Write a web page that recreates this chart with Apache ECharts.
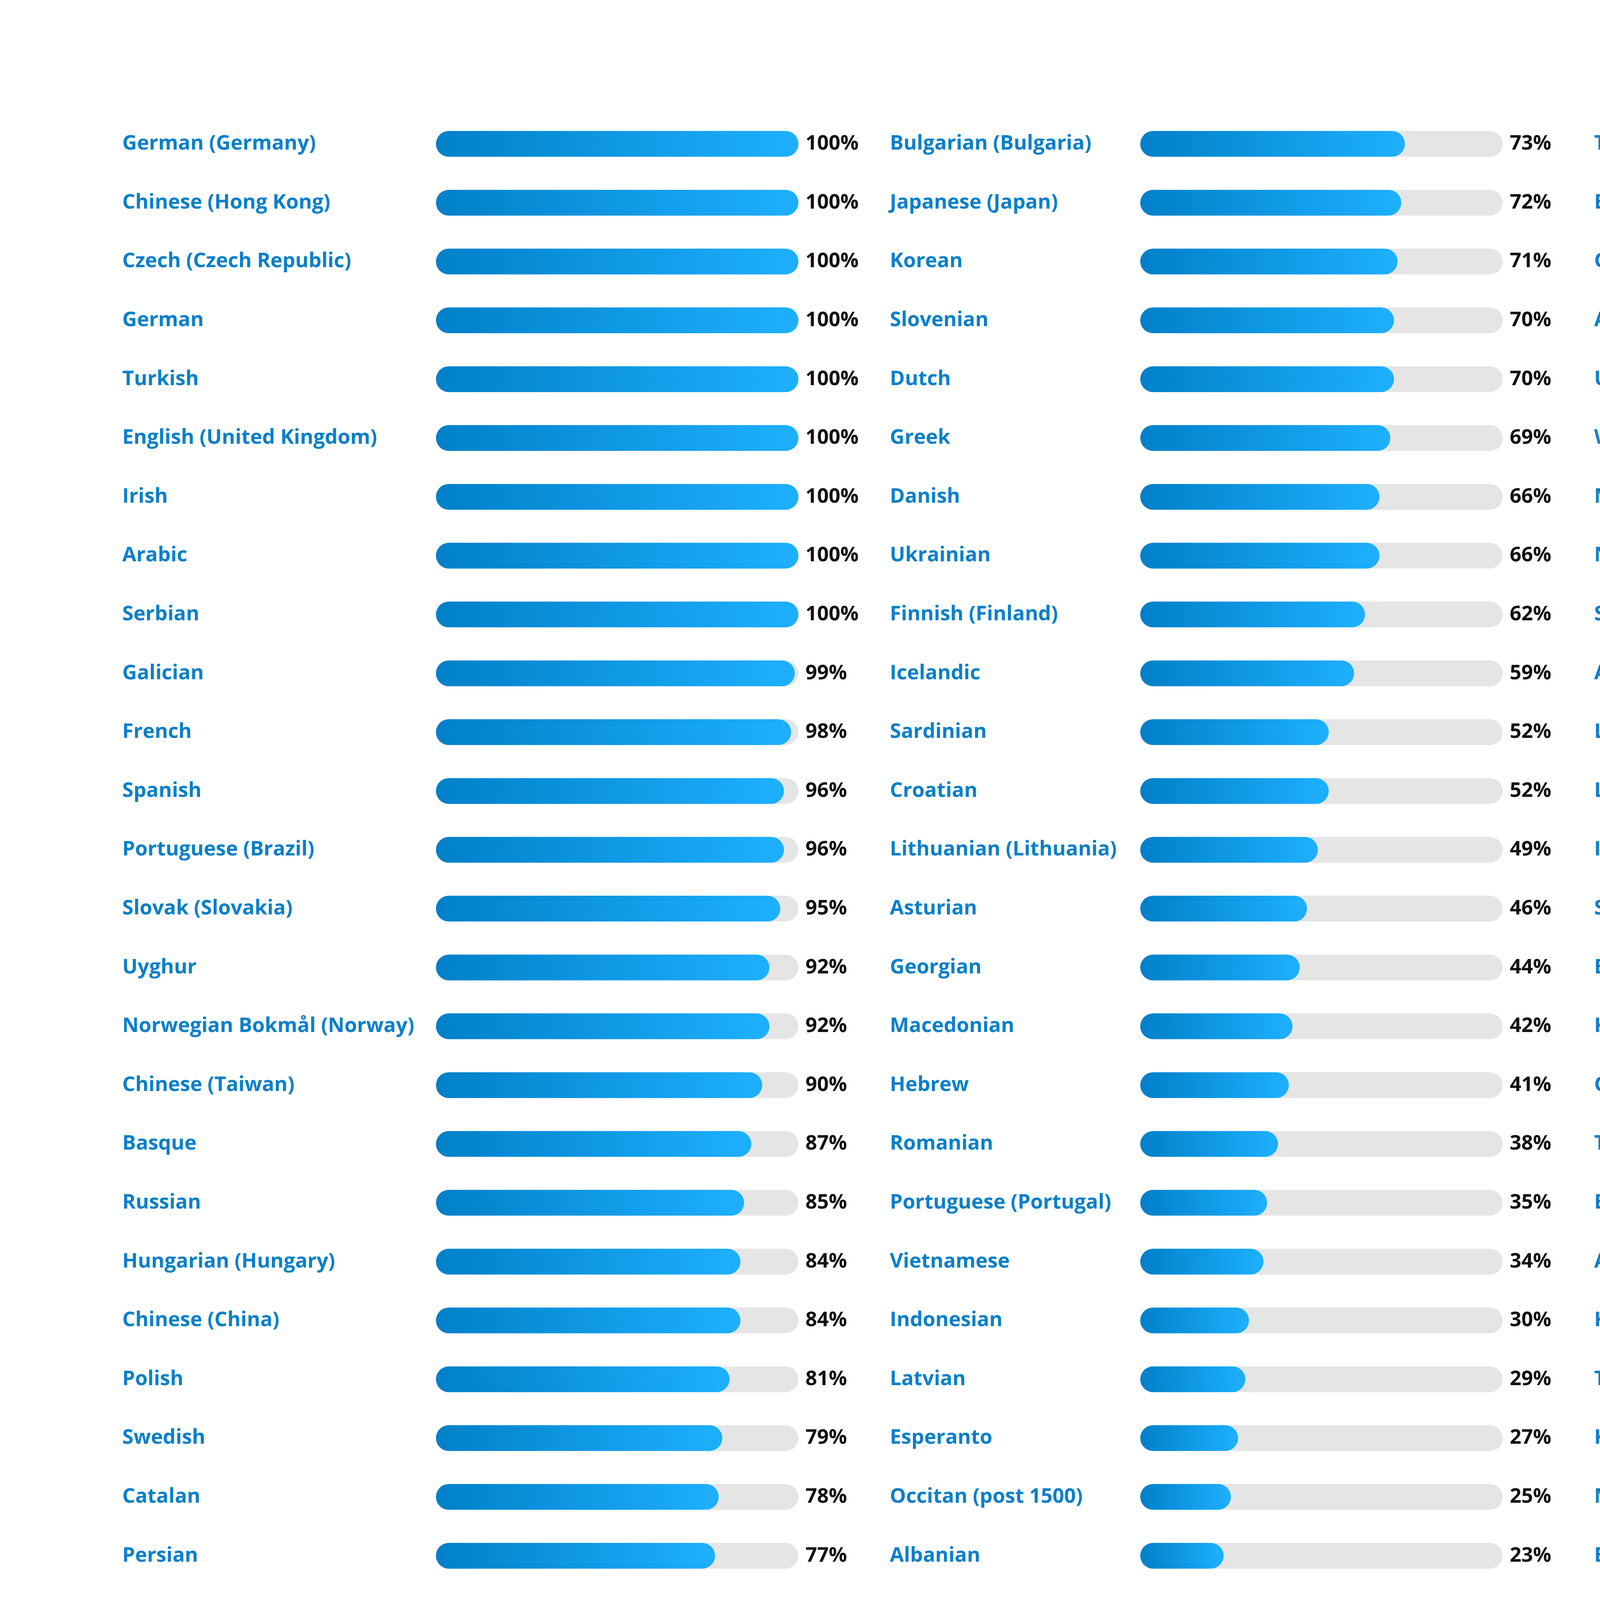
<!DOCTYPE html>
<html>
<head>
<meta charset="utf-8">
<title>Translation progress</title>
<script src="https://cdn.jsdelivr.net/npm/echarts@6.0.0/dist/echarts.min.js"></script>
<style>
    html, body { margin: 0; padding: 0; background: #ffffff; }
    #chart { width: 8000px; height: 4500px; }
</style>
</head>
<body>
<div id="chart"></div>
<script>
// languages, four columns, read top to bottom
var COL1_NAMES = ['German (Germany)', 'Chinese (Hong Kong)', 'Czech (Czech Republic)', 'German', 'Turkish',
    'English (United Kingdom)', 'Irish', 'Arabic', 'Serbian', 'Galician', 'French', 'Spanish',
    'Portuguese (Brazil)', 'Slovak (Slovakia)', 'Uyghur', 'Norwegian Bokmål (Norway)', 'Chinese (Taiwan)',
    'Basque', 'Russian', 'Hungarian (Hungary)', 'Chinese (China)', 'Polish', 'Swedish', 'Catalan',
    'Persian', 'Italian'];
var COL1_VALUES = [100, 100, 100, 100, 100, 100, 100, 100, 100, 99, 98, 96, 96, 95, 92, 92, 90, 87, 85, 84, 84,
    81, 79, 78, 77, 77];

var COL2_NAMES = ['Bulgarian (Bulgaria)', 'Japanese (Japan)', 'Korean', 'Slovenian', 'Dutch', 'Greek', 'Danish',
    'Ukrainian', 'Finnish (Finland)', 'Icelandic', 'Sardinian', 'Croatian', 'Lithuanian (Lithuania)',
    'Asturian', 'Georgian', 'Macedonian', 'Hebrew', 'Romanian', 'Portuguese (Portugal)', 'Vietnamese',
    'Indonesian', 'Latvian', 'Esperanto', 'Occitan (post 1500)', 'Albanian', 'Estonian (Estonia)'];
var COL2_VALUES = [73, 72, 71, 70, 70, 69, 66, 66, 62, 59, 52, 52, 49, 46, 44, 42, 41, 38, 35, 34, 30, 29, 27,
    25, 23, 23];

var COL3_NAMES = ['Thai (Thailand)', 'Breton', 'Georgian (Georgia)', 'Afrikaans', 'Uzbek',
    'Welsh (United Kingdom)', 'Mongolian', 'Norwegian Nynorsk (Norway)', 'Serbian (Latin)', 'Azerbaijani',
    'Lao', 'Luxembourgish', 'Interlingua', 'Sinhala', 'Bengali (Bangladesh)', 'Kabyle', 'Gaelic  Scottish',
    'Tamil', 'Bosnian', 'Armenian', 'Khmer', 'Turkmen', 'Kannada', 'Malay (Malaysia)', 'Belarusian',
    'Urdu (Pakistan)'];
var COL3_VALUES = [21, 21, 20, 17, 14, 12, 12, 11, 11, 10, 10, 9, 9, 9, 9, 8, 8, 7, 7, 7, 7, 7, 6, 6, 4, 4];

var COL4_NAMES = ['Pashto', 'Aragonese', 'Faroese', 'Upper Sorbian', 'Marathi', 'Nepali', 'Burmese',
    'Hindi (India)'];
var COL4_VALUES = [4, 4, 2, 1, 1, 1, 1, 1];

var TRACK_MAX = 100;

var COLUMNS = [
    {names: COL1_NAMES, values: COL1_VALUES},
    {names: COL2_NAMES, values: COL2_VALUES},
    {names: COL3_NAMES, values: COL3_VALUES},
    {names: COL4_NAMES, values: COL4_VALUES}
];

// where each column sits on the page
var LAYOUT = [
    {labelX: 313, left: 1116},
    {labelX: 2278, left: 2919},
    {labelX: 4081, left: 4902},
    {labelX: 6063, left: 6662}
];
var TOP = 293;
var ROW_H = 150.6;
var TRACK_W = 928;
var BAR_H = 66;
var FONT = 'Open Sans';
var FONT_SIZE = 52;
var BLUE_TEXT = '#0a80c8';

var BAR_FILL = new echarts.graphic.LinearGradient(0, 0, 1, 0, [
    {offset: 0, color: '#0080c8'},
    {offset: 1, color: '#1eb0ff'}
]);

var grid = [], xAxis = [], yAxis = [], series = [];

for (var i = 0; i < COLUMNS.length; i++) {
    var col = COLUMNS[i];
    var pos = LAYOUT[i];

    grid.push({
        left: pos.left,
        top: TOP,
        width: TRACK_W,
        height: col.names.length * ROW_H,
        containLabel: false
    });

    xAxis.push({
        type: 'value',
        gridIndex: i,
        min: 0,
        max: TRACK_MAX,
        show: false
    });

    yAxis.push({
        type: 'category',
        gridIndex: i,
        inverse: true,
        data: col.names,
        axisLine: {show: false},
        axisTick: {show: false},
        splitLine: {show: false},
        axisLabel: {
            align: 'left',
            margin: pos.left - pos.labelX,
            color: BLUE_TEXT,
            fontFamily: FONT,
            fontWeight: 'bold',
            fontSize: FONT_SIZE
        }
    });

    // grey track, carries the percent label at its right end
    series.push({
        type: 'bar',
        name: 'track' + i,
        xAxisIndex: i,
        yAxisIndex: i,
        silent: true,
        barWidth: BAR_H,
        barGap: '-100%',
        z: 1,
        data: col.values.map(function () { return TRACK_MAX; }),
        itemStyle: {color: '#e5e5e5', borderRadius: BAR_H / 2},
        label: {
            show: true,
            position: 'right',
            distance: 18,
            color: '#111111',
            fontFamily: FONT,
            fontWeight: 'bold',
            fontSize: FONT_SIZE,
            formatter: (function (vals) {
                return function (p) { return vals[p.dataIndex] + '%'; };
            })(col.values)
        }
    });

    // blue progress bar
    series.push({
        type: 'bar',
        name: 'done' + i,
        xAxisIndex: i,
        yAxisIndex: i,
        barWidth: BAR_H,
        barGap: '-100%',
        barMinHeight: BAR_H,
        z: 2,
        data: col.values,
        itemStyle: {color: BAR_FILL, borderRadius: BAR_H / 2}
    });
}

var chart = echarts.init(document.getElementById('chart'));
chart.setOption({
    backgroundColor: '#ffffff',
    animation: false,
    grid: grid,
    xAxis: xAxis,
    yAxis: yAxis,
    series: series
});
</script>
</body>
</html>
